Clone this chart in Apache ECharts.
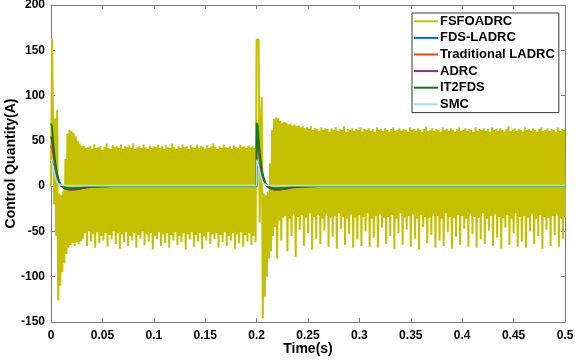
<!DOCTYPE html>
<html>
<head>
<meta charset="utf-8">
<script src="https://cdn.jsdelivr.net/npm/echarts@6/dist/echarts.min.js"></script>
<style>
html,body{margin:0;padding:0;background:#fff;}
#chart{width:575px;height:360px;}
</style>
</head>
<body>
<div id="chart"></div>
<script>
// ---- Data ----
const seriesNames = ['FSFOADRC', 'FDS-LADRC', 'Traditional LADRC', 'ADRC', 'IT2FDS', 'SMC'];

// FSFOADRC: oscillating control signal, one sample every 1 ms from t = 0 to 0.5 s
const fsfoStart = 0;
const fsfoStep = 0.001;
const fsfoValues = [
  0, 162, 162, -20, 75, -55, 84, -126, -8, -110,
  -10, -95, -5, -85, 30, -75, 58, -68, 62, -65,
  61, -63, 59, -66, 55, -62, 50, -64, 47, -61, 44,
  -58, 44, -52, 42, -66, 43, -50, 45, -61, 41,
  -53, 46, -68, 42, -51, 43, -63, 44, -55, 40,
  -60, 43, -52, 47, -67, 42, -54, 41, -59, 45,
  -50, 43, -64, 44, -52, 42, -69, 46, -53, 41,
  -62, 44, -51, 43, -66, 45, -55, 42, -60, 47,
  -52, 41, -68, 43, -54, 44, -58, 42, -50, 46,
  -65, 43, -53, 41, -61, 45, -52, 42, -70, 44,
  -55, 43, -59, 46, -51, 42, -66, 44, -53, 41,
  -63, 45, -52, 43, -68, 42, -54, 47, -60, 43,
  -51, 41, -65, 44, -55, 42, -62, 46, -52, 43,
  -70, 44, -53, 41, -59, 45, -51, 43, -67, 42,
  -54, 46, -61, 42, -52, 44, -69, 43, -55, 41,
  -60, 45, -51, 42, -64, 44, -53, 47, -58, 43,
  -52, 41, -68, 44, -54, 42, -62, 46, -51, 43,
  -66, 42, -55, 44, -60, 41, -52, 45, -69, 43,
  -53, 42, -63, 46, -51, 43, -67, 44, -54, 42,
  -61, 45, -52, 43, -65, 44, -55, 42, -62,
  162, 162, 162, -40, 60, 98, -146, -8, -122, -10,
  -100, -6, -80, 25, -72, 62, -55, 74, -45, 76,
  -80, 75, -38, 72, -60, 70, -35, 71,
  -33, 70, -72, 68, -36, 69, -55, 67, -31, 68,
  -78, 66, -34, 67, -48, 65, -32, 66, -66, 64,
  -35, 65, -52, 63, -30, 66, -70, 62, -34, 64,
  -58, 63, -32, 61, -64, 65, -36, 62, -49, 64,
  -31, 63, -67, 60, -35, 64, -56, 62, -33, 65,
  -69, 61, -30, 63, -47, 62, -34, 66, -65, 60,
  -36, 63, -53, 62, -31, 64, -68, 61, -35, 63,
  -59, 62, -32, 65, -66, 60, -34, 63, -50, 62,
  -30, 64, -67, 61, -36, 63, -57, 60, -33, 65,
  -68, 62, -31, 63, -46, 61, -35, 64, -64, 62,
  -34, 60, -55, 63, -32, 65, -69, 61, -36, 62,
  -52, 64, -30, 61, -65, 63, -35, 62, -48, 60,
  -33, 65, -67, 62, -31, 63, -58, 61, -36, 64,
  -70, 62, -32, 60, -45, 63, -34, 66, -63, 61,
  -35, 62, -54, 64, -31, 61, -68, 63, -33, 62,
  -60, 60, -36, 65, -66, 62, -30, 63, -51, 61,
  -34, 64, -69, 62, -35, 60, -56, 63, -32, 65,
  -65, 61, -33, 62, -47, 64, -36, 61, -67, 63,
  -31, 62, -53, 60, -34, 65, -68, 61, -35, 63,
  -59, 62, -30, 64, -64, 61, -36, 63, -49, 60,
  -33, 65, -66, 62, -31, 63, -57, 61, -34, 64,
  -69, 62, -35, 60, -46, 63, -32, 66, -65, 61,
  -36, 62, -52, 64, -30, 61, -67, 63, -34, 62,
  -61, 60, -33, 65, -68, 62, -35, 63, -50, 61,
  -31, 64, -64, 62, -36, 60, -55, 63, -32, 65,
  -69, 61, -34, 62, -48, 64, -35, 61, -66, 63,
  -33, 62, -54, 60, -31, 65, -67, 61, -36, 63,
  -58, 62, -34
];

// The other controllers: sampled at these times (s)
const ctrlTimes = [0, 0.001, 0.002, 0.003, 0.004, 0.005, 0.006, 0.008, 0.010, 0.013, 0.017, 0.022, 0.028, 0.035, 0.045, 0.06,
  0.1999,
  0.2, 0.201, 0.202, 0.203, 0.204, 0.205, 0.206, 0.208, 0.210, 0.213, 0.217, 0.222, 0.228, 0.235, 0.245, 0.26,
  0.5];
const fdsLadrc = [28, 27, 24, 20, 16, 12, 9, 4, 1, -1, -2.5, -2.5, -2, -1, -0.3, 0,
  0,
  28, 27, 24, 20, 16, 12, 9, 4, 1, -1, -2.5, -2.5, -2, -1, -0.3, 0,
  0];
const tradLadrc = [45, 43, 35, 28, 21, 15, 10, 4, 0, -2.5, -3.8, -3.8, -3, -1.5, -0.5, 0,
  0,
  45, 43, 35, 28, 21, 15, 10, 4, 0, -2.5, -3.8, -3.8, -3, -1.5, -0.5, 0,
  0];
const adrc = [55, 53, 42, 33, 25, 18, 12, 4, 0, -2.5, -4, -4, -3, -1.5, -0.5, 0,
  0,
  55, 53, 42, 33, 25, 18, 12, 4, 0, -2.5, -4, -4, -3, -1.5, -0.5, 0,
  0];
const it2fds = [69, 66, 50, 38, 28, 20, 13, 5, 1, -1.5, -2.5, -2.5, -2, -1, -0.3, 0,
  0,
  70, 67, 51, 38, 28, 20, 13, 5, 1, -1.5, -2.5, -2.5, -2, -1, -0.3, 0,
  0];
const smc = [29, 28, 22, 16, 11, 7, 4, 2, 1, 0.8, 0.6, 0.6, 0.6, 0.6, 0.6, 0.6,
  0.6,
  29, 28, 22, 16, 11, 7, 4, 2, 1, 0.8, 0.6, 0.6, 0.6, 0.6, 0.6, 0.6,
  0.6];

// ---- Build the chart ----
const colors = ['#c4c000', '#0072bd', '#d95319', '#7e2f8e', '#127a12', '#a6e2f6'];
const widths = [2, 1.6, 1.6, 1.6, 1.8, 1.6];

const fsfoPairs = fsfoValues.map((v, i) => [+(fsfoStart + i * fsfoStep).toFixed(4), v]);
const pair = arr => arr.map((v, i) => [ctrlTimes[i], v]);
const allData = [fsfoPairs, pair(fdsLadrc), pair(tradLadrc), pair(adrc), pair(it2fds), pair(smc)];

const FONT = '"Liberation Sans", Arial, Helvetica, sans-serif';
const axisGrey = '#7a7a7a';

const xCommon = {
  type: 'value', min: 0, max: 0.5, interval: 0.05,
  axisLine: { show: true, onZero: false, lineStyle: { color: axisGrey, width: 1 } },
  axisTick: { show: true, inside: true, length: 4, lineStyle: { color: axisGrey } },
  splitLine: { show: false }
};
const yCommon = {
  type: 'value', min: -150, max: 200, interval: 50,
  axisLine: { show: true, onZero: false, lineStyle: { color: axisGrey, width: 1 } },
  axisTick: { show: true, inside: true, length: 4, lineStyle: { color: axisGrey } },
  splitLine: { show: false }
};

const chart = echarts.init(document.getElementById('chart'), null, { renderer: 'canvas' });
chart.setOption({
  animation: false,
  backgroundColor: '#ffffff',
  grid: { left: 51, right: 10, top: 5, bottom: 38, containLabel: false, outerBoundsMode: 'none' },
  xAxis: [
    Object.assign({}, xCommon, {
      position: 'bottom',
      name: 'Time(s)', nameLocation: 'middle', nameGap: 20, nameMoveOverlap: false,
      nameTextStyle: { fontFamily: FONT, fontWeight: 'bold', fontSize: 14, color: '#000' },
      axisLabel: { show: true, margin: 8, fontFamily: FONT, fontWeight: 'bold', fontSize: 12, color: '#000',
        formatter: v => String(+v.toFixed(2)) }
    }),
    Object.assign({}, xCommon, { position: 'top', axisLabel: { show: false } })
  ],
  yAxis: [
    Object.assign({}, yCommon, {
      position: 'left',
      name: 'Control Quantity(A)', nameLocation: 'middle', nameGap: 33, nameRotate: 90, nameMoveOverlap: false,
      nameTextStyle: { fontFamily: FONT, fontWeight: 'bold', fontSize: 14, color: '#000' },
      axisLabel: { show: true, margin: 6, fontFamily: FONT, fontWeight: 'bold', fontSize: 12, color: '#000' }
    }),
    Object.assign({}, yCommon, { position: 'right', axisLabel: { show: false } })
  ],
  legend: {
    left: 412, top: 13,
    orient: 'vertical',
    backgroundColor: '#ffffff',
    borderColor: '#3a3a3a', borderWidth: 1,
    padding: [1, 4, 1, 2],
    itemGap: 2,
    itemWidth: 24, itemHeight: 2,
    icon: 'rect',
    textStyle: { fontFamily: FONT, fontWeight: 'bold', fontSize: 13, color: '#000', lineHeight: 14.6, padding: [0, 0, 0, -3] },
    data: seriesNames
  },
  series: seriesNames.map((name, k) => ({
    name: name,
    type: 'line',
    xAxisIndex: 0, yAxisIndex: 0,
    data: allData[k],
    symbol: 'none',
    showSymbol: false,
    sampling: null,
    clip: true,
    color: colors[k],
    lineStyle: { color: colors[k], width: widths[k] },
    itemStyle: { color: colors[k] },
    emphasis: { disabled: true },
    z: 2 + k
  }))
});
</script>
</body>
</html>
